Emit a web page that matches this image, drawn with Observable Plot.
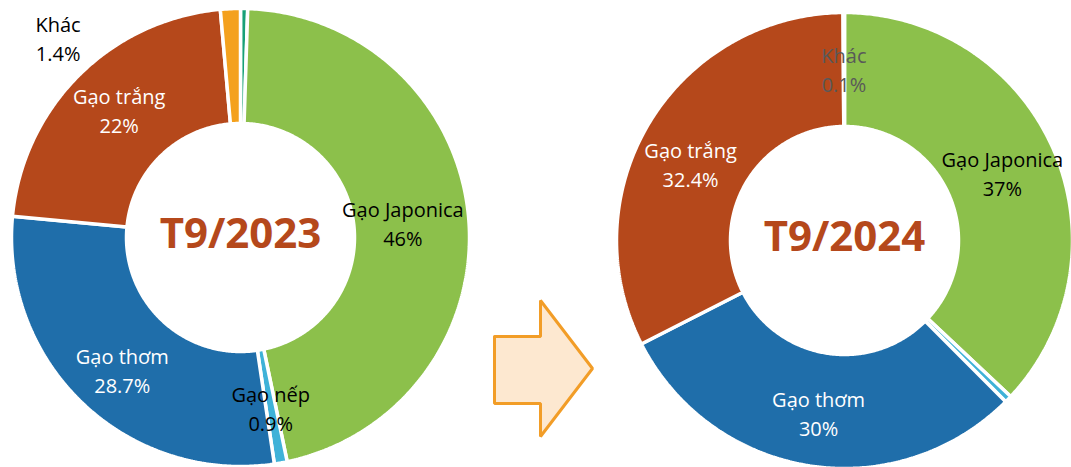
<!DOCTYPE html>
<html>
<head>
<meta charset="utf-8">
<script src="https://cdn.jsdelivr.net/npm/d3@7"></script>
<script src="https://cdn.jsdelivr.net/npm/@observablehq/plot@0.6"></script>
<style>
  html, body { margin: 0; padding: 0; background: #fff; }
  #chart svg { display: block; }
</style>
</head>
<body>
<div id="chart"></div>
<script>
// ---- data ----
const categories = ["Loại khác", "Gạo Japonica", "Gạo nếp", "Gạo thơm", "Gạo trắng", "Khác"];
const values2023 = [0.5, 46, 0.9, 28.7, 22, 1.4];
const values2024 = [0, 37, 0.5, 30, 32.4, 0.1];
const periods = ["T9/2023", "T9/2024"];
const showLabel2023 = [false, true, true, true, true, true];
const showLabel2024 = [false, true, false, true, true, true];

// ---- styles ----
const sliceColors = {
  "Loại khác": "#17a078",
  "Gạo Japonica": "#8cc04b",
  "Gạo nếp": "#3fb2d8",
  "Gạo thơm": "#1f6eaa",
  "Gạo trắng": "#b5481b",
  "Khác": "#f4a11d"
};
const labelColors = {
  "Gạo Japonica": "#000",
  "Gạo nếp": "#000",
  "Gạo thơm": "#fff",
  "Gạo trắng": "#fff",
  "Khác": "#000"
};
const titleColor = "#b5481b";
const FONT = "Open Sans";

// ---- layout ----
const W = 1071, H = 467;
const donuts = [
  {cx: 240, cy: 237, R: 229, r: 114, values: values2023, show: showLabel2023, title: periods[0],
   labelOverride: {"Khác": {angle: -42.5, radius: 270}},
   labelNudge: {"Gạo Japonica": [-9, 0], "Gạo trắng": [0, -6], "Gạo thơm": [0, 7], "Khác": [0, -1]},
   labelColorOverride: {}},
  {cx: 844, cy: 240, R: 228, r: 114, values: values2024, show: showLabel2024, title: periods[1],
   labelOverride: {},
   labelNudge: {"Gạo trắng": [-7, 12], "Gạo thơm": [1, 2]},
   labelColorOverride: {"Khác": "#595959"}}
];
const labelRadius = 172;

const marks = [];
const labels = [];
const titles = [];

for (const d of donuts) {
  const data = categories.map((c, i) => ({cat: c, value: d.values[i], show: d.show[i]}));
  const arcs = d3.pie().sort(null).value(e => e.value)(data);
  for (const a of arcs) {
    if (a.data.value <= 0) continue;
    const pts = [];
    const n = Math.max(2, Math.ceil((a.endAngle - a.startAngle) / 0.01));
    for (let k = 0; k <= n; k++) {
      const t = a.startAngle + (a.endAngle - a.startAngle) * k / n;
      pts.push({x: d.cx + d.R * Math.sin(t), y: d.cy - d.R * Math.cos(t)});
    }
    for (let k = n; k >= 0; k--) {
      const t = a.startAngle + (a.endAngle - a.startAngle) * k / n;
      pts.push({x: d.cx + d.r * Math.sin(t), y: d.cy - d.r * Math.cos(t)});
    }
    pts.push(pts[0]);
    marks.push(Plot.line(pts, {x: "x", y: "y", fill: sliceColors[a.data.cat], stroke: "white", strokeWidth: 3.5, strokeLinejoin: "miter"}));
    if (a.data.show) {
      let ang = (a.startAngle + a.endAngle) / 2, rad = labelRadius;
      const o = d.labelOverride[a.data.cat];
      if (o) { ang = o.angle * Math.PI / 180; rad = o.radius; }
      const nudge = d.labelNudge[a.data.cat] || [0, 0];
      labels.push({
        x: d.cx + rad * Math.sin(ang) + nudge[0],
        y: d.cy - rad * Math.cos(ang) + nudge[1],
        text: a.data.cat + "\n" + a.data.value + "%",
        color: d.labelColorOverride[a.data.cat] || labelColors[a.data.cat]
      });
    }
  }
  titles.push({x: d.cx, y: d.cy - 3, text: d.title});
}

// decorative arrow between the two donuts
const ax0 = 494, ax1 = 540, ax2 = 592, ay0 = 300, ay1 = 336, ay2 = 403, ay3 = 436;
const arrow = [
  {x: ax0, y: ay1}, {x: ax1, y: ay1}, {x: ax1, y: ay0}, {x: ax2, y: (ay0 + ay3) / 2},
  {x: ax1, y: ay3}, {x: ax1, y: ay2}, {x: ax0, y: ay2}, {x: ax0, y: ay1}
];
marks.push(Plot.line(arrow, {x: "x", y: "y", fill: "#fde8d0", stroke: "#f29d27", strokeWidth: 3, strokeLinejoin: "miter"}));

marks.push(Plot.text(labels, {x: "x", y: "y", text: "text", fill: "color", fontSize: 20, lineHeight: 1.45, fontFamily: FONT}));
marks.push(Plot.text(titles, {x: "x", y: "y", text: "text", fill: titleColor, fontSize: 42, fontWeight: "bold", fontFamily: FONT}));

const chart = Plot.plot({
  width: W,
  height: H,
  margin: 0,
  x: {domain: [0, W], range: [0, W], axis: null},
  y: {domain: [0, H], range: [0, H], axis: null},
  color: {type: "identity"},
  style: {fontFamily: FONT, background: "white"},
  marks
});
document.getElementById("chart").appendChild(chart);
</script>
</body>
</html>
